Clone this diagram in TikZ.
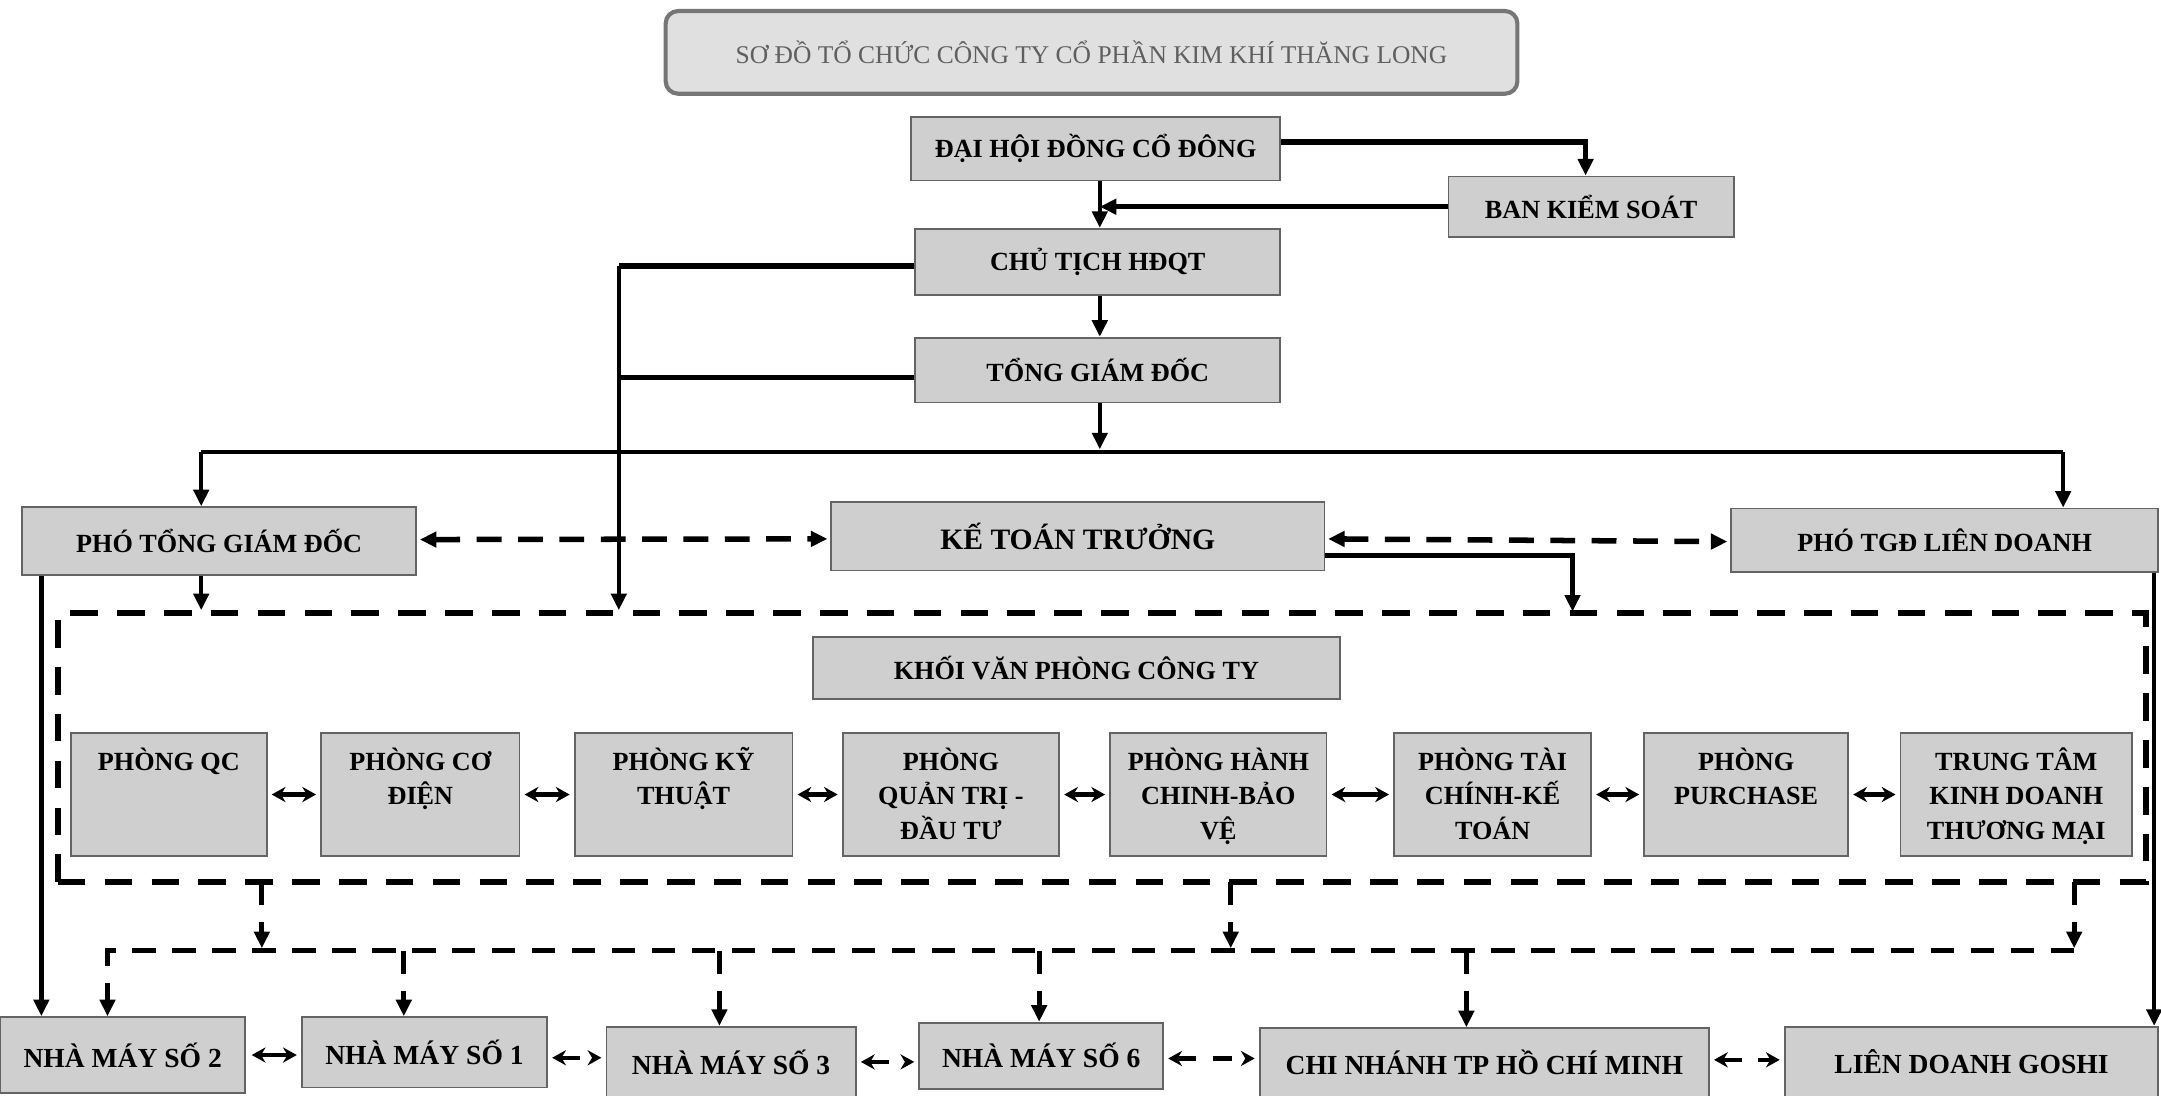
\documentclass[tikz,border=0pt]{standalone}
\usepackage{fontspec}
\setmainfont{Liberation Serif}
\usetikzlibrary{arrows.meta,calc}
\definecolor{boxfill}{RGB}{207,207,207}
\definecolor{boxdraw}{RGB}{100,100,100}
\definecolor{titlefill}{RGB}{224,224,224}
\definecolor{titledraw}{RGB}{118,118,118}
\definecolor{titletext}{RGB}{95,95,95}
\newcommand{\rowtxt}[2]{\parbox[c][89pt][t]{#1}{\centering\rule{0pt}{27pt}#2\par}}
\begin{document}
\begin{tikzpicture}[x=1pt,y=-1pt,
  box/.style={draw=boxdraw, fill=boxfill, line width=1.3pt, inner sep=0pt, align=center,
    font=\fontsize{19}{25}\selectfont\bfseries},
  bigtxt/.style={font=\fontsize{21.5}{26}\selectfont\bfseries},
  bottxt/.style={font=\fontsize{20}{24}\selectfont\bfseries},
  titlebox/.style={draw=titledraw, fill=titlefill, line width=3pt, rounded corners=9pt,
    inner sep=0pt, minimum width=618pt, minimum height=60pt, text=titletext,
    font=\fontsize{18.5}{22}\selectfont},
  sline/.style={line width=3.2pt, line join=miter},
  sarr/.style={sline, -{Triangle[length=12pt,width=11pt]}},
  dline/.style={line width=4.5pt, dash pattern=on 20pt off 14pt},
  dline2/.style={line width=3.6pt, dash pattern=on 17pt off 12pt},
  darr/.style={dline2, -{Triangle[length=12pt,width=11pt]}},
  ddbl/.style={line width=4pt, dash pattern=on 18pt off 12pt,
    {Triangle[length=12pt,width=11pt]}-{Triangle[length=12pt,width=11pt]}},
  dbl/.style={line width=3pt, {Stealth[length=10pt,width=11pt]}-{Stealth[length=10pt,width=11pt]}},
  dbld/.style={line width=3pt, dash pattern=on 14pt off 12pt,
    {Stealth[length=10pt,width=11pt]}-{Stealth[length=10pt,width=11pt]}}
]
\useasboundingbox (0,0) rectangle (1568,795);
\fill[white] (0,0) rectangle (1568,795);

% title
\node[titlebox] (title) at (792,38) {SƠ ĐỒ TỔ CHỨC CÔNG TY CỔ PHẦN KIM KHÍ THĂNG LONG};

% top hierarchy
\node[box, minimum width=268pt, minimum height=46pt] (dh) at (795,108) {ĐẠI HỘI ĐỒNG CỔ ĐÔNG};
\node[box, minimum width=207pt, minimum height=44pt] (bks) at (1154.5,150) {BAN KIỂM SOÁT};
\node[box, minimum width=265pt, minimum height=48pt] (ct) at (796.5,190) {CHỦ TỊCH HĐQT};
\node[box, minimum width=265pt, minimum height=47pt] (tgd) at (796.5,268.5) {TỔNG GIÁM ĐỐC};

\node[box, minimum width=286pt, minimum height=49pt] (ptgd) at (159,392.5) {PHÓ TỔNG GIÁM ĐỐC};
\node[box, bigtxt, minimum width=358pt, minimum height=50pt] (ktt) at (782,389) {KẾ TOÁN TRƯỞNG};
\node[box, minimum width=310pt, minimum height=46pt] (ptld) at (1411,392) {PHÓ TGĐ LIÊN DOANH};

% office block
\node[draw, dline, minimum width=1515pt, minimum height=195pt, inner sep=0pt] (kvpbox) at (799.5,542.5) {};
\node[box, minimum width=382pt, minimum height=45pt] (kvp) at (781,484.5) {KHỐI VĂN PHÒNG CÔNG TY};

\node[box, minimum width=142pt, minimum height=89pt] (qc) at (122.5,576.5) {\rowtxt{136pt}{PHÒNG QC}};
\node[box, minimum width=144pt, minimum height=89pt] (cd) at (305,576.5) {\rowtxt{138pt}{PHÒNG CƠ\\ĐIỆN}};
\node[box, minimum width=158pt, minimum height=89pt] (kt) at (496,576.5) {\rowtxt{150pt}{PHÒNG KỸ\\THUẬT}};
\node[box, minimum width=157pt, minimum height=89pt] (qt) at (690,576.5) {\rowtxt{150pt}{PHÒNG\\QUẢN TRỊ -\\ĐẦU TƯ}};
\node[box, minimum width=157pt, minimum height=89pt] (hc) at (884,576.5) {\rowtxt{150pt}{PHÒNG HÀNH\\CHINH-BẢO\\VỆ}};
\node[box, minimum width=143pt, minimum height=89pt] (tc) at (1083,576.5) {\rowtxt{136pt}{PHÒNG TÀI\\CHÍNH-KẾ\\TOÁN}};
\node[box, minimum width=148pt, minimum height=89pt] (pu) at (1267,576.5) {\rowtxt{142pt}{PHÒNG\\PURCHASE}};
\node[box, minimum width=168pt, minimum height=89pt] (tt) at (1463,576.5) {\rowtxt{162pt}{TRUNG TÂM\\KINH DOANH\\THƯƠNG MẠI}};

% bottom row
\node[box, bottxt, minimum width=178pt, minimum height=55pt] (nm2) at (89,765.5) {NHÀ MÁY SỐ 2};
\node[box, bottxt, minimum width=178pt, minimum height=51pt] (nm1) at (308,763.5) {NHÀ MÁY SỐ 1};
\node[box, bottxt, minimum width=181pt, minimum height=51pt] (nm3) at (530.5,770.5) {NHÀ MÁY SỐ 3};
\node[box, bottxt, minimum width=177pt, minimum height=48pt] (nm6) at (755.5,766) {NHÀ MÁY SỐ 6};
\node[box, bottxt, minimum width=326pt, minimum height=50pt] (cn) at (1077,771) {CHI NHÁNH TP HỒ CHÍ MINH};
\node[box, bottxt, minimum width=271pt, minimum height=51pt] (gs) at (1430.5,770.5) {LIÊN DOANH GOSHI};

% helper coordinates
\coordinate (busL) at (146,328);
\coordinate (busR) at (1497,328);
\coordinate (vx) at (449,193);
\coordinate (vx2) at (449,274);
\coordinate (kx) at (1141,403);
\coordinate (mx) at (798,150);
\coordinate (tx) at (798,0);
\coordinate (b2L) at (78,690);
\coordinate (b2R) at (1505,690);
\coordinate (u1) at (190,640);
\coordinate (u2) at (893,640);
\coordinate (u3) at (1505,640);
\coordinate (s1) at (293,690);
\coordinate (s3) at (522,690);
\coordinate (s6) at (754,690);
\coordinate (sc) at (1064,690);
\coordinate (pl) at (30,0);
\coordinate (pr) at (1563,0);

% top connectors
\draw[sarr, line width=4pt] ($(dh.east)+(0,-5)$) -| ($(bks.north)+(-4,0)$);
\draw[sarr, line width=4pt] (bks.west) -- (mx);
\draw[sarr] (tx |- dh.south) -- (tx |- ct.north);
\draw[sarr] (tx |- ct.south) -- (tx |- tgd.north);
\draw[sarr] (tx |- tgd.south) -- ($(tx |- busL)+(0,-2)$);
\draw[sline] (busL) -- (busR);
\draw[sarr] (busL) -- (busL |- ptgd.north);
\draw[sarr] (busR) -- (busR |- ptld.north);
\draw[sline, line width=4pt] (ct.west |- vx) -- (vx);
\draw[sline, line width=4pt] (tgd.west |- vx2) -- (vx2);
\draw[sarr] (vx) -- (vx |- kvpbox.north);

% dashed links between deputies
\draw[ddbl] ($(ptgd.east)+(2,-1)$) -- ($(ktt.west)+(-2,2)$);
\draw[ddbl] ($(ktt.east)+(2,2)$) -- ($(ptld.west)+(-2,1)$);
\draw[sarr, line width=4pt] (ktt.east |- kx) -| ($(kx |- kvpbox.north)+(0,1)$);
\draw[sarr] (busL |- ptgd.south) -- (busL |- kvpbox.north);
\draw[sarr] (pl |- ptgd.south) -- (pl |- nm2.north);
\draw[sarr] (pr |- ptld.south) -- (pr |- gs.north);

% office row arrows
\draw[dbl] ($(qc.east)+(3,0)$) -- ($(cd.west)+(-3,0)$);
\draw[dbl] ($(cd.east)+(3,0)$) -- ($(kt.west)+(-3,0)$);
\draw[dbl] ($(kt.east)+(3,0)$) -- ($(qt.west)+(-3,0)$);
\draw[dbl] ($(qt.east)+(3,0)$) -- ($(hc.west)+(-3,0)$);
\draw[dbl] ($(hc.east)+(3,0)$) -- ($(tc.west)+(-3,0)$);
\draw[dbl] ($(tc.east)+(3,0)$) -- ($(pu.west)+(-3,0)$);
\draw[dbl] ($(pu.east)+(3,0)$) -- ($(tt.west)+(-3,0)$);

% dashed distribution
\draw[darr] (u1) -- ($(u1 |- b2L)+(0,-2)$);
\draw[darr] (u2) -- ($(u2 |- b2L)+(0,-2)$);
\draw[darr] (u3) -- ($(u3 |- b2L)+(0,-2)$);
\draw[darr] (b2R) -- (b2L) -- (b2L |- nm2.north);
\draw[darr] (s1) -- (s1 |- nm1.north);
\draw[darr] (s3) -- (s3 |- nm3.north);
\draw[darr] (s6) -- (s6 |- nm6.north);
\draw[darr] (sc) -- (sc |- cn.north);

% bottom row arrows
\draw[dbl] ($(nm2.east)+(4,0)$) -- ($(nm2.east -| nm1.west)+(-3,0)$);
\draw[dbld] ($(nm1.east)+(3,4)$) -- ($(nm1.east -| nm3.west)+(-3,4)$);
\draw[dbld] ($(nm3.east)+(3,0)$) -- ($(nm3.east -| nm6.west)+(-3,0)$);
\draw[dbld] ($(nm6.east)+(3,2)$) -- ($(nm6.east -| cn.west)+(-3,2)$);
\draw[dbld] ($(cn.east)+(3,-2)$) -- ($(cn.east -| gs.west)+(-3,-2)$);
\end{tikzpicture}
\end{document}
